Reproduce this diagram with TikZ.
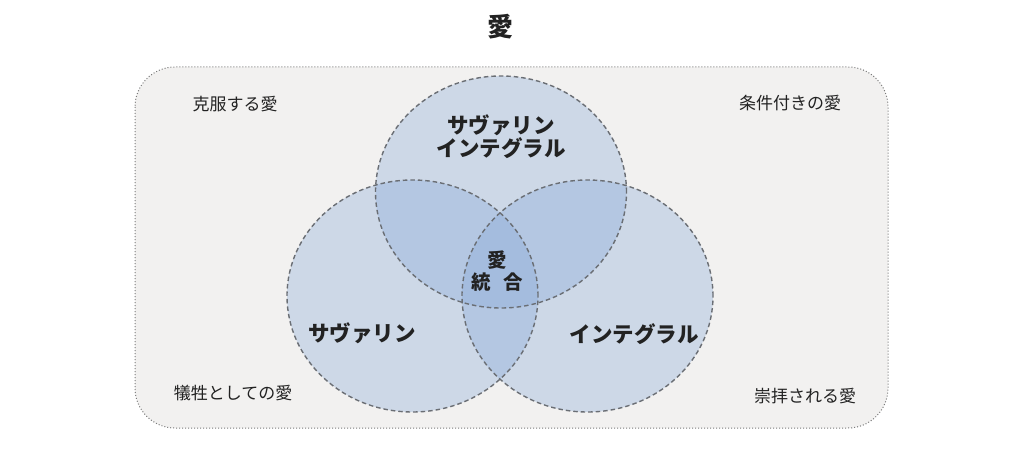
\documentclass[tikz,border=0pt]{standalone}
\usepackage{fontspec}
\setmainfont{Noto Sans CJK JP}
\usetikzlibrary{shapes.geometric}
\definecolor{bgbox}{HTML}{F2F1F0}
\definecolor{vfill}{HTML}{88AAD9}
\definecolor{vline}{HTML}{6A6E74}
\definecolor{boxline}{HTML}{7A7A7A}
\definecolor{txt}{HTML}{222222}
\tikzset{
  vcirc/.style={ellipse, minimum width=251pt, minimum height=232pt, inner sep=0pt},
  vedge/.style={draw=vline, line width=1.4pt, dash pattern=on 4.5pt off 3pt, fill=none},
  corner/.style={font=\fontsize{17}{19}\selectfont, text=txt},
  clabel/.style={font=\bfseries\fontsize{21.5}{23}\selectfont, text=txt, align=center},
}
\begin{document}
\begin{tikzpicture}[x=1pt,y=-1pt]
\useasboundingbox (0,0) rectangle (1024,468);
\fill[white] (0,0) rectangle (1024,468);
\node[font=\bfseries\fontsize{26}{28}\selectfont, text=txt] (title) at (500,27) {愛};
\draw[boxline, line width=1pt, dotted, fill=bgbox, rounded corners=40pt] (135,67) rectangle (888,428);
\node[vcirc] (top) at (501,192) {};
\node[vcirc] (left) at (412.5,296) {};
\node[vcirc] (right) at (587.5,296) {};
\foreach \c in {top,left,right}{
  \fill[vfill, fill opacity=0.35] (\c.center) ellipse [x radius=125.5pt, y radius=116pt];
}
\foreach \c in {top,left,right}{
  \draw[vedge] (\c.center) ellipse [x radius=125.5pt, y radius=116pt];
}
\node[clabel] (ltop) at (501,137) {サヴァリン\\インテグラル};
\node[clabel] (lleft) at (362,333) {サヴァリン};
\node[clabel] (lright) at (634,334) {インテグラル};
\node[clabel, font=\bfseries\fontsize{19.5}{21.5}\selectfont] (lmid) at (497,271) {愛\\統\hspace{0.65em}合};
\node[corner] (c1) at (235,104) {克服する愛};
\node[corner] (c2) at (790,103) {条件付きの愛};
\node[corner] (c3) at (233,393) {犠牲としての愛};
\node[corner] (c4) at (805,396) {崇拝される愛};
\end{tikzpicture}
\end{document}
